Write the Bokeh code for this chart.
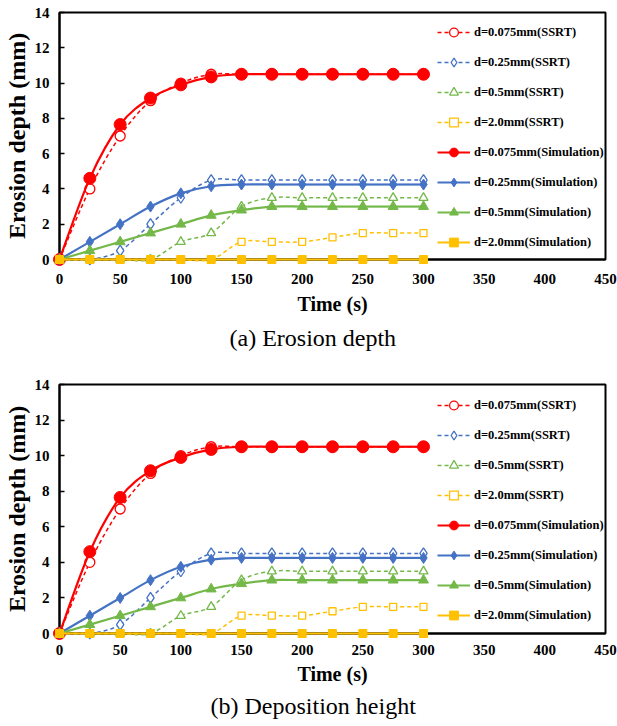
from bokeh.plotting import figure
from bokeh.models import Legend, LegendItem, Title, Range1d, FixedTicker
from bokeh.layouts import column
from bokeh.embed import file_html
from bokeh.resources import INLINE

# ---------------- data ----------------
time_s = [0, 25, 50, 75, 100, 125, 150, 175, 200, 225, 250, 275, 300]

ssrt_d0075 = [0, 4.0, 7.0, 9.0, 10.0, 10.5, 10.5, 10.5, 10.5, 10.5, 10.5, 10.5, 10.5]
ssrt_d025 = [0, 0, 0.5, 2.0, 3.5, 4.5, 4.5, 4.5, 4.5, 4.5, 4.5, 4.5, 4.5]
ssrt_d05 = [0, 0, 0, 0, 1.0, 1.5, 3.0, 3.5, 3.5, 3.5, 3.5, 3.5, 3.5]
ssrt_d20 = [0, 0, 0, 0, 0, 0, 1.0, 1.0, 1.0, 1.25, 1.5, 1.5, 1.5]

sim_d0075 = [0, 4.6, 7.65, 9.15, 9.9, 10.35, 10.5, 10.5, 10.5, 10.5, 10.5, 10.5, 10.5]
sim_d025 = [0, 1.0, 2.0, 3.0, 3.75, 4.15, 4.25, 4.25, 4.25, 4.25, 4.25, 4.25, 4.25]
sim_d05 = [0, 0.5, 1.0, 1.5, 2.0, 2.5, 2.8, 3.0, 3.0, 3.0, 3.0, 3.0, 3.0]
sim_d20 = [0, 0, 0, 0, 0, 0, 0, 0, 0, 0, 0, 0, 0]

x_ticks = [0, 50, 100, 150, 200, 250, 300, 350, 400, 450]
y_ticks = [0, 2, 4, 6, 8, 10, 12, 14]

labels_ssrt = ["d=0.075mm(SSRT)", "d=0.25mm(SSRT)", "d=0.5mm(SSRT)", "d=2.0mm(SSRT)"]
labels_sim = ["d=0.075mm(Simulation)", "d=0.25mm(Simulation)",
              "d=0.5mm(Simulation)", "d=2.0mm(Simulation)"]

captions = ["(a) Erosion depth", "(b) Deposition height"]

COLORS = ["#FF0000", "#4472C4", "#74B84A", "#FFC000"]
MARKERS = ["circle", "diamond", "triangle", "square"]
SIZES_OPEN = [10, 11, 9, 7]
SIZES_FILL = [12, 11, 10, 8]

SERIF = "Liberation Serif"


def smooth(xs, ys):
    """Catmull-Rom style bezier segments (like a spreadsheet smoothed line)."""
    n = len(xs)
    out = dict(x0=[], y0=[], x1=[], y1=[], cx0=[], cy0=[], cx1=[], cy1=[])
    for i in range(n - 1):
        xp, yp = (xs[i - 1], ys[i - 1]) if i > 0 else (xs[i], ys[i])
        xn, yn = (xs[i + 2], ys[i + 2]) if i + 2 < n else (xs[i + 1], ys[i + 1])
        out["x0"].append(xs[i]); out["y0"].append(ys[i])
        out["x1"].append(xs[i + 1]); out["y1"].append(ys[i + 1])
        out["cx0"].append(xs[i] + (xs[i + 1] - xp) / 6.0)
        out["cy0"].append(ys[i] + (ys[i + 1] - yp) / 6.0)
        out["cx1"].append(xs[i + 1] - (xn - xs[i]) / 6.0)
        out["cy1"].append(ys[i + 1] - (yn - ys[i]) / 6.0)
    return out


def make_fig(caption, height, top_border, bottom_border, s1, s2, tstand,
             cap_offset, leg_y):
    p = figure(width=617, height=height, output_backend="svg", toolbar_location=None,
               x_range=Range1d(0, 450), y_range=Range1d(0, 14),
               min_border_left=57, min_border_right=12, min_border_top=top_border,
               min_border_bottom=bottom_border, background_fill_color="white",
               border_fill_color="white")
    p.xgrid.visible = False
    p.ygrid.visible = False
    p.outline_line_color = "black"
    p.outline_line_width = 2
    p.outline_line_alpha = 1

    for ax in (p.xaxis[0], p.yaxis[0]):
        ax.axis_line_color = "black"
        ax.axis_line_width = 2
        ax.minor_tick_line_color = None
        ax.major_label_text_font = SERIF
        ax.major_label_text_font_style = "bold"
        ax.major_label_text_font_size = "15px"
        ax.major_label_text_color = "black"
        ax.axis_label_text_font = SERIF
        ax.axis_label_text_font_style = "bold"
        ax.axis_label_text_color = "black"
        ax.major_tick_line_color = "black"
        ax.major_tick_line_width = 1.5

    p.xaxis.ticker = FixedTicker(ticks=x_ticks)
    p.yaxis.ticker = FixedTicker(ticks=y_ticks)
    p.xaxis.major_tick_in = 0
    p.xaxis.major_tick_out = 0
    p.yaxis.major_tick_in = 5
    p.yaxis.major_tick_out = 0
    p.xaxis.major_label_standoff = s1
    p.xaxis.axis_label = "Time (s)"
    p.xaxis.axis_label_text_font_size = "20px"
    p.xaxis.axis_label_standoff = s2
    p.yaxis.axis_label = "Erosion depth (mm)"
    p.yaxis.axis_label_text_font_size = "24px"
    p.yaxis.major_label_standoff = 10
    p.yaxis.axis_label_standoff = 2

    ssrt = [ssrt_d0075, ssrt_d025, ssrt_d05, ssrt_d20]
    sims = [sim_d0075, sim_d025, sim_d05, sim_d20]
    ssrt_items = []
    sim_items = []
    for k, ys in enumerate(ssrt):
        bz = p.bezier(line_color=COLORS[k], line_width=1.5,
                      line_dash="4 3", level="overlay", **smooth(time_s, ys))
        sc = p.scatter(time_s, ys, marker=MARKERS[k], size=SIZES_OPEN[k],
                       line_color=COLORS[k], line_width=1.3, fill_color="white",
                       level="overlay")
        ssrt_items.append(LegendItem(label=labels_ssrt[k], renderers=[bz, sc]))
    for k, ys in enumerate(sims):
        bz = p.bezier(line_color=COLORS[k], line_width=2.2, level="overlay",
                      **smooth(time_s, ys))
        sc = p.scatter(time_s, ys, marker=MARKERS[k], size=SIZES_FILL[k],
                       line_color=COLORS[k], fill_color=COLORS[k], level="overlay")
        sim_items.append(LegendItem(label=labels_sim[k], renderers=[bz, sc]))
    items = ssrt_items + sim_items

    legend = Legend(items=items, location=(378, leg_y))
    legend.background_fill_alpha = 0
    legend.border_line_alpha = 0
    legend.padding = 0
    legend.margin = 0
    legend.spacing = 8
    legend.glyph_height = 22
    legend.glyph_width = 33
    legend.label_height = 22
    legend.label_standoff = 4
    legend.label_text_font = SERIF
    legend.label_text_font_style = "bold"
    legend.label_text_font_size = "12.5px"
    legend.label_text_color = "black"
    p.add_layout(legend)

    title = Title(text=caption, align="left", offset=cap_offset, standoff=tstand,
                  text_font=SERIF, text_font_style="normal", text_font_size="24px",
                  text_color="black")
    p.add_layout(title, "below")
    return p


pa = make_fig(captions[0], 363, 12, 104, 14, 6, 10, 170, 5.7)
pb = make_fig(captions[1], 363, 21, 93, 11, 5, 6, 151, 6.7)

layout = column(pa, pb, spacing=0)
open("out.html", "w").write(file_html(layout, INLINE))
